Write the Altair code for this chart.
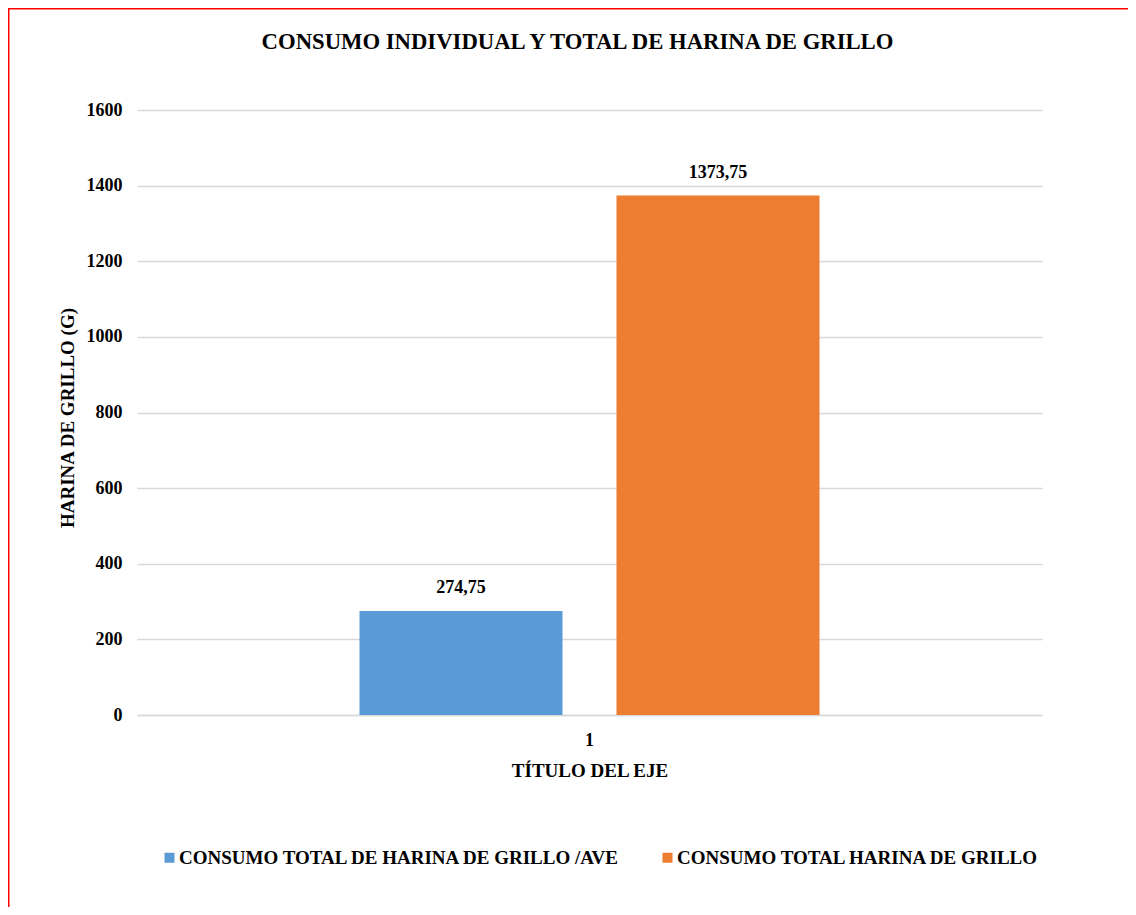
import altair as alt
import pandas as pd

categories = ["1", "1"]
series = ["CONSUMO TOTAL DE HARINA DE GRILLO /AVE", "CONSUMO TOTAL HARINA DE GRILLO"]
values = [274.75, 1373.75]
colors = ["#5B9BD5", "#ED7D31"]
y_ticks = [0, 200, 400, 600, 800, 1000, 1200, 1400, 1600]

df = pd.DataFrame({
    "cat": categories,
    "serie": series,
    "valor": values,
    "etiqueta": [f"{v:.2f}".replace(".", ",") for v in values],
})

FONT = "Liberation Serif"
W, H = 905, 605
PL, PT, PR, PB = 129, 102, 86, 192

x_enc = alt.X("cat:N", scale=alt.Scale(paddingInner=0, paddingOuter=0.4837),
              axis=alt.Axis(title="TÍTULO DEL EJE", labelAngle=0, ticks=False,
                            domainColor="#D9D9D9", domainWidth=1.5,
                            labelPadding=16, labelFontSize=18,
                            titleFontSize=19, titleY=55, titleBaseline="middle"))
xo_enc = alt.XOffset("serie:N", sort=series, scale=alt.Scale(paddingInner=0.21, paddingOuter=0))
y_enc = alt.Y("valor:Q", scale=alt.Scale(domain=[0, 1600], nice=False),
              axis=alt.Axis(title="HARINA DE GRILLO (G)", values=y_ticks, ticks=False,
                            format="d",
                            domain=False, gridColor="#D9D9D9", gridWidth=1.5,
                            labelPadding=15, labelFontSize=18,
                            titleFontSize=19, titleX=-70, titleY=H / 2 + 5,
                            titleBaseline="middle", titleAngle=-90))

bars = alt.Chart(df).mark_bar().encode(
    x=x_enc, xOffset=xo_enc, y=y_enc,
    color=alt.Color("serie:N", sort=series,
                    scale=alt.Scale(domain=series, range=colors),
                    legend=alt.Legend(title=None, orient="none", direction="horizontal",
                                      legendX=23, legendY=738, symbolType="square",
                                      symbolSize=100, symbolStrokeWidth=0,
                                      columnPadding=37, labelOffset=0, padding=0,
                                      labelFontSize=19, labelLimit=0)),
)

labels = alt.Chart(df).mark_text(baseline="middle", dy=-23, fontSize=18,
                                 font=FONT, fontWeight="bold", color="black").encode(
    x="cat:N", xOffset=alt.XOffset("serie:N", sort=series), y="valor:Q", text="etiqueta:N"
)

border = alt.Data(values=[{"k": 1}])
left_line = alt.Chart(border).mark_rule(color="#FF0000", strokeWidth=2).encode(
    x=alt.value(-PL + 0.5), y=alt.value(-PT), y2=alt.value(H + PB))
top_line = alt.Chart(border).mark_rule(color="#FF0000", strokeWidth=2).encode(
    y=alt.value(-PT + 0.5), x=alt.value(-PL), x2=alt.value(W + PR))

chart = alt.layer(bars, labels, left_line, top_line).properties(
    width=W, height=H,
    autosize=alt.AutoSizeParams(type="none"),
    padding={"left": PL, "top": PT, "right": PR, "bottom": PB},
    title=alt.TitleParams("CONSUMO INDIVIDUAL Y TOTAL DE HARINA DE GRILLO",
                          fontSize=22.7, font=FONT, fontWeight="bold", color="black",
                          anchor="middle", baseline="middle", dx=-12, dy=58, offset=0),
).configure_axis(
    labelFont=FONT, labelFontWeight="bold", labelColor="black",
    titleFont=FONT, titleFontWeight="bold", titleColor="black",
).configure_legend(
    labelFont=FONT, labelFontWeight="bold", labelColor="black",
).configure_view(stroke=None)

chart.save("out.html", embed_options={"renderer": "svg", "actions": False})
